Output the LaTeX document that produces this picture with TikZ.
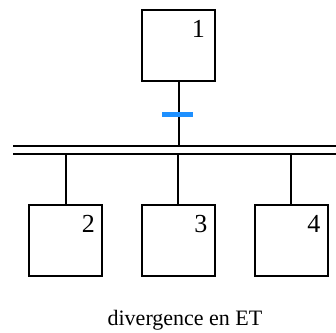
\documentclass[tikz,border=0pt]{standalone}
\usepackage{fontspec}
\setmainfont{Liberation Serif}
\usepackage{xcolor}
\usepackage{tikz}
\usetikzlibrary{positioning}
\definecolor{tickblue}{RGB}{30,144,255}

\begin{document}
\begin{tikzpicture}[x=1pt, y=1pt,
  etape/.style={draw, line width=2pt, minimum width=73pt, minimum height=71pt, inner sep=0pt},
  num/.style={font=\fontsize{26}{30}\selectfont, inner sep=0pt},
  lien/.style={line width=2pt},
  recep/.style={line width=4.5pt, draw=tickblue},
  ttl/.style={font=\fontsize{22}{26}\selectfont, inner sep=0pt, anchor=base}]
\useasboundingbox (0,0) rectangle (336,332);
% step above the divergence
\node[etape] (e1) at (178.5,286.5) {};
\node[num, below left=11pt and 11pt of e1.north east] (n1) {1};
% double bar
\coordinate (hg) at (13,186); \coordinate (hd) at (336,186);
\coordinate (bg) at (13,178); \coordinate (bd) at (336,178);
\draw[lien] (hg) -- (hd);
\draw[lien] (bg) -- (bd);
\coordinate (j1) at (e1.south |- hg);
\draw[lien] (e1.south) -- (j1);
% transition
\coordinate (t) at (178,217.5);
\coordinate (tg) at (162,217.5); \coordinate (td) at (193,217.5);
\draw[recep] (tg) -- (td);
% steps below the divergence
\foreach \i/\x in {2/65.5, 3/178, 4/291} {
  \node[etape] (e\i) at (\x,91.5) {};
  \node[num, below left=11pt and 8pt of e\i.north east] (n\i) {\i};
  \coordinate (j\i) at (e\i.north |- bg);
  \draw[lien] (j\i) -- (e\i.north);
}
\node[ttl] (titre) at (185,7) {divergence en ET};
\end{tikzpicture}
\end{document}
